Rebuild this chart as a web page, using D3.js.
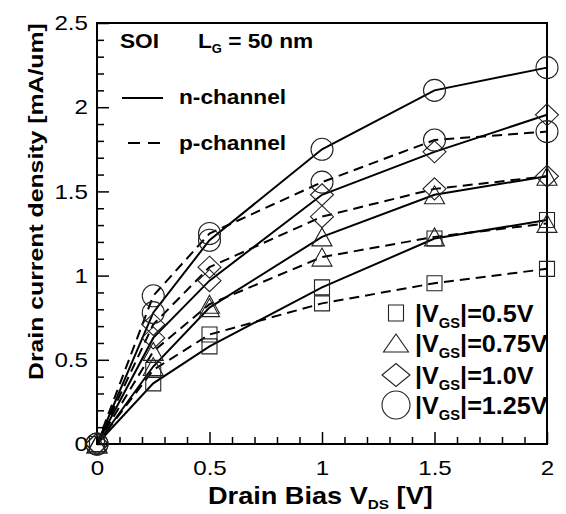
<!DOCTYPE html>
<html><head><meta charset="utf-8">
<script src="https://cdn.jsdelivr.net/npm/d3@7"></script>
<style>
body{margin:0;background:#fff}
text{font-family:"Liberation Sans",Arial,Helvetica,sans-serif;fill:#000}
</style>
</head><body>
<svg id="chart" width="566" height="514"></svg>
<script>
// ---------- data ----------
const vds = [0, 0.25, 0.5, 1, 1.5, 2];
const vgsLabels = ["0.5V", "0.75V", "1.0V", "1.25V"];
const markerTypes = ["square", "triangle", "diamond", "circle"];
// n-channel (solid)
const n05  = [0, 0.36, 0.58, 0.93, 1.22, 1.33];
const n075 = [0, 0.46, 0.81, 1.23, 1.48, 1.59];
const n10  = [0, 0.63, 0.97, 1.48, 1.735, 1.955];
const n125 = [0, 0.78, 1.21, 1.75, 2.10, 2.235];
// p-channel (dashed)
const p05  = [0, 0.44, 0.65, 0.835, 0.955, 1.04];
const p075 = [0, 0.55, 0.83, 1.11, 1.23, 1.31];
const p10  = [0, 0.71, 1.05, 1.35, 1.515, 1.59];
const p125 = [0, 0.88, 1.25, 1.555, 1.805, 1.855];
const xTicks = [0, 0.5, 1, 1.5, 2];
const yTicks = [0, 0.5, 1, 1.5, 2, 2.5];

const nSeries = [n05, n075, n10, n125];
const pSeries = [p05, p075, p10, p125];

// ---------- layout ----------
const svg = d3.select("#chart");
const L = 97, T = 23, R = 547, B = 444;
const x = d3.scaleLinear().domain([0, 2]).range([L, R]);
const y = d3.scaleLinear().domain([0, 2.5]).range([B, T]);

function stretch(sel, k) {
  sel.each(function () {
    const len = this.getComputedTextLength();
    d3.select(this).attr("textLength", len * k).attr("lengthAdjust", "spacingAndGlyphs");
  });
}

// marker shape path
function shapePath(type, cx, cy, w, h) {
  const p = d3.path();
  if (type === "square") {
    p.rect(cx - w / 2, cy - h / 2, w, h);
  } else if (type === "triangle") {
    p.moveTo(cx, cy - h / 2); p.lineTo(cx + w / 2, cy + h / 2); p.lineTo(cx - w / 2, cy + h / 2); p.closePath();
  } else if (type === "diamond") {
    p.moveTo(cx, cy - h / 2); p.lineTo(cx + w / 2, cy); p.lineTo(cx, cy + h / 2); p.lineTo(cx - w / 2, cy); p.closePath();
  } else {
    p.moveTo(cx + w / 2, cy); p.arc(cx, cy, w / 2, 0, 2 * Math.PI);
  }
  return p.toString();
}
const dataSize = {square: [15, 15], triangle: [20, 18], diamond: [23, 22], circle: [22, 22]};
const legSize  = {square: [15, 16], triangle: [25, 18], diamond: [28, 23], circle: [28, 28]};

// ---------- axes ----------
const gx = svg.append("g").attr("transform", `translate(0,${B})`);
gx.call(d3.axisBottom(x).tickValues(x.ticks(20).filter(v => !xTicks.some(t => Math.abs(t - v) < 1e-9)))
  .tickSizeInner(-7).tickSizeOuter(0).tickFormat(""));
const gx2 = svg.append("g").attr("transform", `translate(0,${B})`);
gx2.call(d3.axisBottom(x).tickValues(xTicks).tickSizeInner(-12).tickSizeOuter(0).tickPadding(16)
  .tickFormat(d3.format("")));
const gy = svg.append("g").attr("transform", `translate(${L},0)`);
gy.call(d3.axisLeft(y).tickValues(y.ticks(25).filter(v => !yTicks.some(t => Math.abs(t - v) < 1e-9)))
  .tickSizeInner(-7).tickSizeOuter(0).tickFormat(""));
const gy2 = svg.append("g").attr("transform", `translate(${L},0)`);
gy2.call(d3.axisLeft(y).tickValues(yTicks).tickSizeInner(-12).tickSizeOuter(0).tickPadding(9)
  .tickFormat(d3.format("")));
[gx, gx2, gy, gy2].forEach(g => {
  g.select(".domain").remove();
  g.selectAll("line").attr("stroke", "#000").attr("stroke-width", 1.5);
  g.selectAll("text").attr("font-size", 21).attr("font-family", "'Liberation Sans',Arial,sans-serif").attr("fill", "#000");
});
stretch(gx2.selectAll("text"), 1.15);
stretch(gy2.selectAll("text"), 1.15);

// frame
svg.append("rect").attr("x", L).attr("y", T).attr("width", R - L).attr("height", B - T)
  .attr("fill", "none").attr("stroke", "#000").attr("stroke-width", 2);

// ---------- lines ----------
const line = d3.line().x((d, i) => x(vds[i])).y(d => y(d));
const gl = svg.append("g");
nSeries.forEach(s => gl.append("path").attr("d", line(s)).attr("fill", "none")
  .attr("stroke", "#000").attr("stroke-width", 2));
pSeries.forEach(s => gl.append("path").attr("d", line(s)).attr("fill", "none")
  .attr("stroke", "#000").attr("stroke-width", 2).attr("stroke-dasharray", "10,6"));

// ---------- markers ----------
const gm = svg.append("g");
[nSeries, pSeries].forEach(group => group.forEach((s, k) => {
  const t = markerTypes[k], sz = dataSize[t];
  s.forEach((v, i) => {
    gm.append("path").attr("d", shapePath(t, x(vds[i]), y(v), sz[0], sz[1]))
      .attr("fill", "none").attr("stroke", "#222").attr("stroke-width", 1.1);
  });
}));

// ---------- annotations ----------
function stretchedText(xp, yp, k, size, weight, anchor) {
  return svg.append("text").attr("transform", `translate(${xp},${yp}) scale(${k},1)`)
    .attr("font-size", size).attr("font-weight", weight).attr("text-anchor", anchor || "start");
}
stretchedText(120, 48, 1.08, 21, "bold").text("SOI");
const lg = stretchedText(198, 48, 1.08, 21, "bold");
lg.append("tspan").text("L");
lg.append("tspan").attr("font-size", 12).attr("dy", 5).text("G");
lg.append("tspan").attr("dy", -5).text(" = 50 nm");

svg.append("line").attr("x1", 122).attr("x2", 163).attr("y1", 98).attr("y2", 98)
  .attr("stroke", "#000").attr("stroke-width", 2);
stretchedText(179, 104, 1.08, 21, "bold").text("n-channel");
svg.append("line").attr("x1", 128).attr("x2", 160).attr("y1", 143).attr("y2", 143)
  .attr("stroke", "#000").attr("stroke-width", 2).attr("stroke-dasharray", "12,8");
stretchedText(179, 150, 1.08, 21, "bold").text("p-channel");

// ---------- legend ----------
const legY = [313, 343, 375, 405];
vgsLabels.forEach((lab, k) => {
  const t = markerTypes[k], sz = legSize[t];
  svg.append("path").attr("d", shapePath(t, 396, legY[k], sz[0], sz[1]))
    .attr("fill", "none").attr("stroke", "#222").attr("stroke-width", 1.1);
  const tx = stretchedText(415, legY[k] + 9, 1.05, 24, "bold");
  tx.append("tspan").text("|V");
  tx.append("tspan").attr("font-size", 14).attr("dy", 6).text("GS");
  tx.append("tspan").attr("dy", -6).text("|=" + lab);
});

// ---------- axis titles ----------
const xt = stretchedText(208, 504, 1.18, 23, "bold");
xt.append("tspan").text("Drain Bias V");
xt.append("tspan").attr("font-size", 13).attr("dy", 5).text("DS");
xt.append("tspan").attr("dy", -5).text(" [V]");

svg.append("text").attr("transform", `translate(43,380) rotate(-90) scale(1.24,1)`)
  .attr("font-size", 20).attr("font-weight", "bold").text("Drain current density [mA/um]");
</script>
</body></html>
